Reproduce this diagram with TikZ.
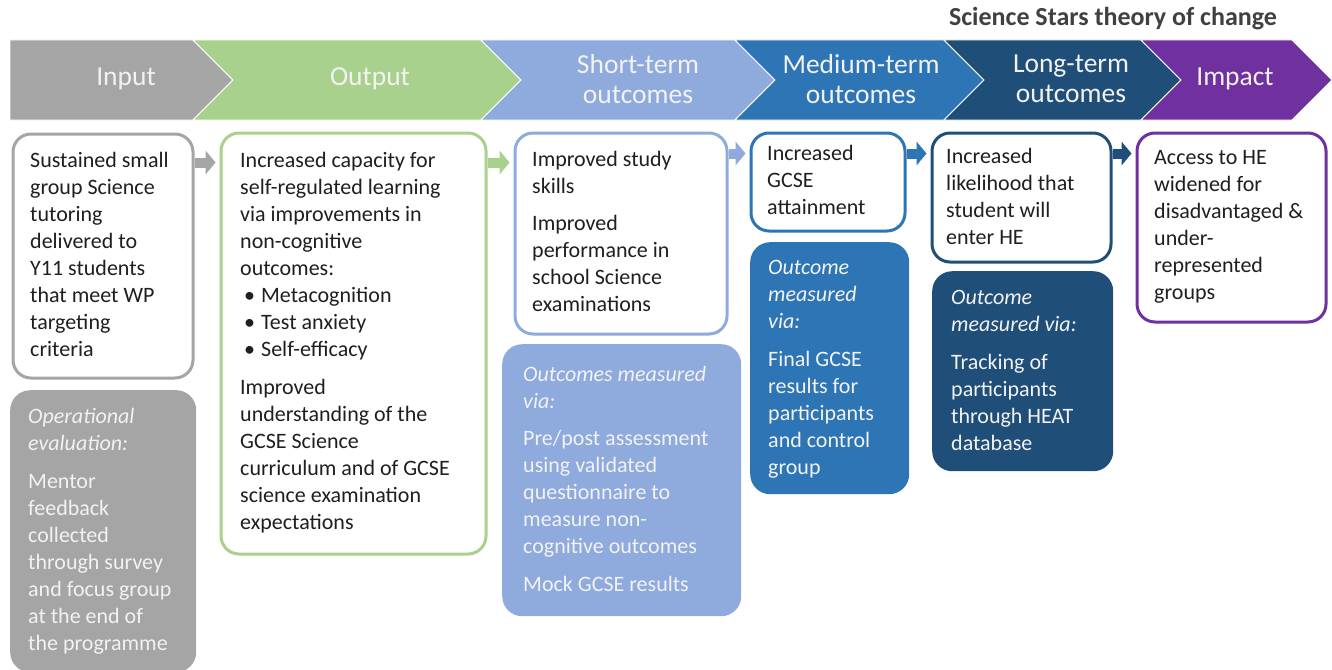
\documentclass[tikz,border=0pt]{standalone}
\usepackage{fontspec}
\setmainfont{Carlito}
\usepackage{xcolor}
\usepackage{tikz}
\usetikzlibrary{arrows.meta,positioning,calc}

\definecolor{inputgray}{HTML}{A5A5A5}
\definecolor{outgreen}{HTML}{A9D18E}
\definecolor{shortblue}{HTML}{8FAADC}
\definecolor{medblue}{HTML}{2E75B6}
\definecolor{longblue}{HTML}{1F4E79}
\definecolor{imppurple}{HTML}{7030A0}
\newcommand{\bul}{\hspace*{4pt}\makebox[17pt][l]{\textbullet}}

\begin{document}
\begin{tikzpicture}[x=1pt,y=-1pt,
  band/.style={fill=#1,draw=white,line width=0.8pt},
  head/.style={text=white!95!black,font=\fontsize{27.5}{30}\selectfont,align=center},
  box/.style={draw=#1,line width=3pt,rounded corners=18pt,fill=white,anchor=north west,inner sep=0pt},
  note/.style={fill=#1,rounded corners=20pt,anchor=north west,inner sep=0pt},
  txt/.style={anchor=north west,inner sep=0pt,align=left,font=\fontsize{22}{27}\selectfont,text=black!88},
  wtxt/.style={txt,text=white!95!black},
  flow/.style={draw=#1,fill=#1,line width=10pt,-{Triangle[length=10pt,width=24pt,line width=0pt]},shorten >=4pt}]
\useasboundingbox (0,0) rectangle (1332,669);

% title and header band
\node[font=\fontsize{26}{30}\selectfont\bfseries,text=black!75] (title) at (1113,19) {Science Stars theory of change};
\draw[band=inputgray] (10,40) -- (193,40) -- (233,80) -- (193,120) -- (10,120) -- cycle;
\draw[band=outgreen] (193,40) -- (481,40) -- (521,80) -- (481,120) -- (193,120) -- (233,80) -- cycle;
\draw[band=shortblue] (481,40) -- (735,40) -- (775,80) -- (735,120) -- (481,120) -- (521,80) -- cycle;
\draw[band=medblue] (735,40) -- (944,40) -- (984,80) -- (944,120) -- (735,120) -- (775,80) -- cycle;
\draw[band=longblue] (944,40) -- (1141,40) -- (1181,80) -- (1141,120) -- (944,120) -- (984,80) -- cycle;
\draw[band=imppurple] (1141,40) -- (1292,40) -- (1332,80) -- (1292,120) -- (1141,120) -- (1181,80) -- cycle;
\node[head] (hin) at (126,79) {Input};
\node[head] (hout) at (370,79) {Output};
\node[head] (hshort) at (638,79) {Short-term\\outcomes};
\node[head] (hmed) at (861,79) {Medium-term\\outcomes};
\node[head] (hlong) at (1071,79) {Long-term\\outcomes};
\node[head] (himp) at (1235,79) {Impact};

% outline boxes
\node[box=inputgray,minimum width=180pt,minimum height=244pt] (inbox) at (11.5,132.5) {};
\node[box=outgreen,minimum width=265pt,minimum height=421pt] (outbox) at (219.5,131.5) {};
\node[box=shortblue,minimum width=212pt,minimum height=201pt] (shortbox) at (513.5,131.5) {};
\node[box=medblue,minimum width=154pt,minimum height=98pt] (medbox) at (749.5,131.5) {};
\node[box=longblue,minimum width=179pt,minimum height=129pt] (longbox) at (930.5,131.5) {};
\node[box=imppurple,minimum width=189pt,minimum height=189pt] (impbox) at (1135.5,131.5) {};

% filled measurement boxes
\node[note=inputgray,minimum width=186pt,minimum height=282pt] (innote) at (10,390) {};
\node[note=shortblue,minimum width=239pt,minimum height=272pt] (shortnote) at (502,344) {};
\node[note=medblue,minimum width=159pt,minimum height=252pt] (mednote) at (750,242) {};
\node[note=longblue,minimum width=181pt,minimum height=200pt] (longnote) at (932,271) {};

% texts
\node[txt] (intxt) at (30,152) {Sustained small\\group Science\\tutoring\\delivered to\\Y11 students\\that meet WP\\targeting\\criteria};
\node[txt] (outtxt) at (240,152) {Increased capacity for\\self-regulated learning\\via improvements in\\non-cognitive\\outcomes:\\\bul Metacognition\\\bul Test anxiety\\\bul Self-efficacy\\[11pt]Improved\\understanding of the\\GCSE Science\\curriculum and of GCSE\\science examination\\expectations};
\node[txt] (shorttxt) at (532,151) {Improved study\\skills\\[10pt]Improved\\performance in\\school Science\\examinations};
\node[txt] (medtxt) at (767,145) {Increased\\GCSE\\attainment};
\node[txt] (longtxt) at (946,148) {Increased\\likelihood that\\student will\\enter HE};
\node[txt] (imptxt) at (1154,150) {Access to HE\\widened for\\disadvantaged \&\\under-\\represented\\groups};
\node[wtxt] (innotetxt) at (28,408) {\textit{Operational}\\\textit{evaluation:}\\[11pt]Mentor\\feedback\\collected\\through survey\\and focus group\\at the end of\\the programme};
\node[wtxt] (shortnotetxt) at (523,366) {\textit{Outcomes measured}\\\textit{via:}\\[10pt]Pre/post assessment\\using validated\\questionnaire to\\measure non-\\cognitive outcomes\\[11pt]Mock GCSE results};
\node[wtxt] (mednotetxt) at (768,260) {\textit{Outcome}\\\textit{measured}\\\textit{via:}\\[11pt]Final GCSE\\results for\\participants\\and control\\group};
\node[wtxt] (longnotetxt) at (951,290) {\textit{Outcome}\\\textit{measured via:}\\[11pt]Tracking of\\participants\\through HEAT\\database};

% block arrows between the boxes
\draw[flow=inputgray] ($(inbox.north east)+(0,30)$) -- ($(outbox.north west)+(0,31)$);
\draw[flow=outgreen] ($(outbox.north east)+(0,31)$) -- ($(shortbox.north west)+(0,31)$);
\draw[flow=shortblue] ($(shortbox.north east)+(0,22)$) -- ($(medbox.north west)+(0,22)$);
\draw[flow=medblue] ($(medbox.north east)+(0,22)$) -- ($(longbox.north west)+(0,22)$);
\draw[flow=longblue] ($(longbox.north east)+(0,22)$) -- ($(impbox.north west)+(0,22)$);
\end{tikzpicture}
\end{document}
